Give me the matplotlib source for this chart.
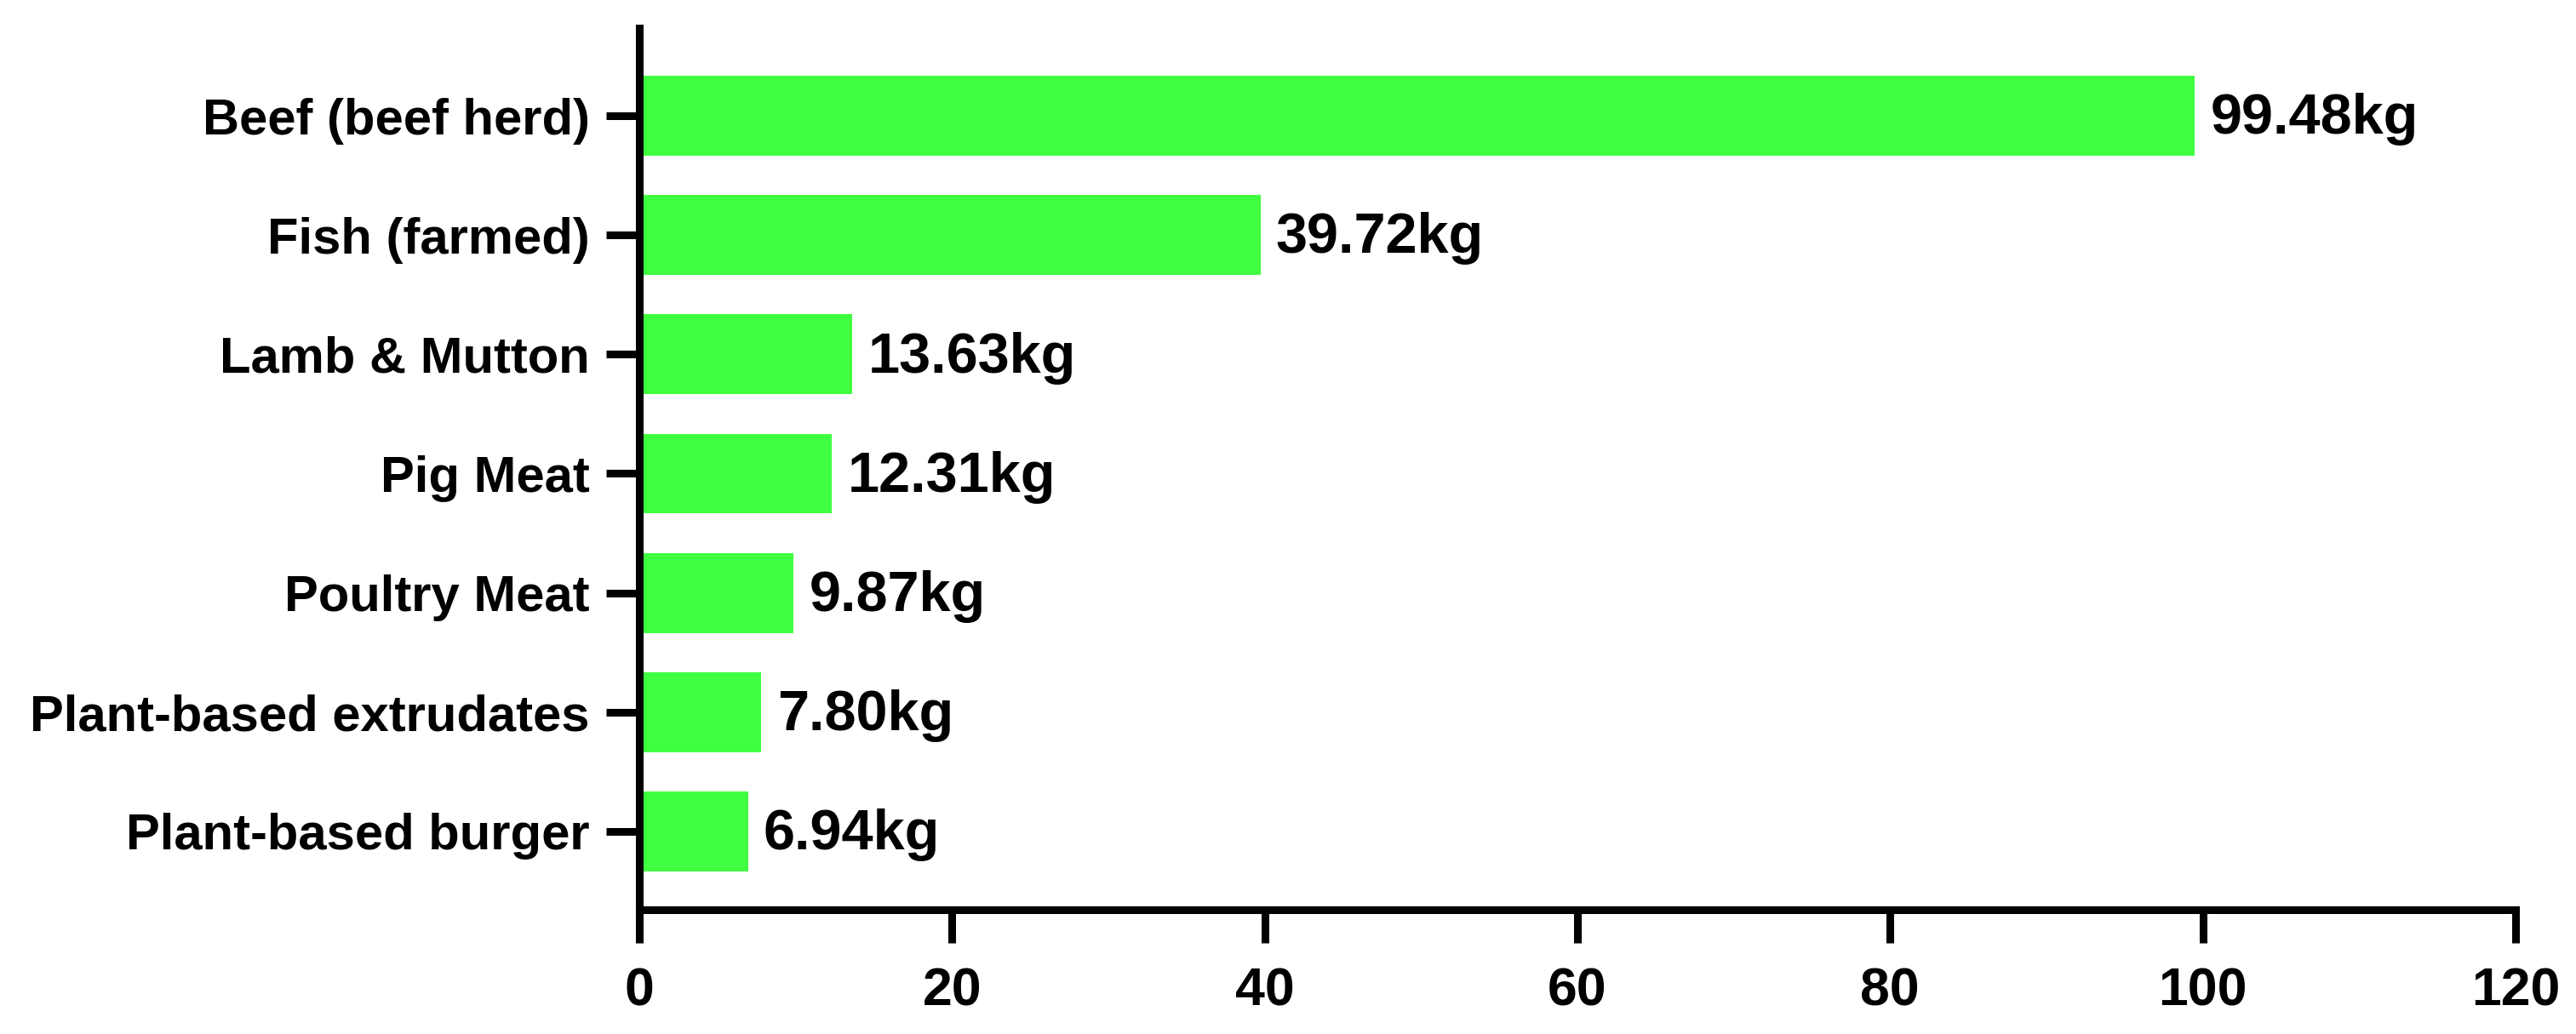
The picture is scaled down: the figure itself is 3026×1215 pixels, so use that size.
import matplotlib
matplotlib.use("Agg")
import matplotlib.pyplot as plt

# data, top to bottom as in the chart
foods = ["Beef (beef herd)", "Fish (farmed)", "Lamb & Mutton", "Pig Meat",
         "Poultry Meat", "Plant-based extrudates", "Plant-based burger"]
emissions = [99.48, 39.72, 13.63, 12.31, 9.87, 7.80, 6.94]
x_ticks = [0, 20, 40, 60, 80, 100, 120]

plt.rcParams['font.family'] = ['Liberation Sans', 'DejaVu Sans']
plt.rcParams['font.weight'] = 'bold'

fig = plt.figure(figsize=(30.26, 12.15), dpi=100)
ax = fig.add_axes([0.2482, 0.1202, 0.7283, 0.8526])

ypos = list(range(len(foods) - 1, -1, -1))
bars = ax.barh(ypos, emissions, height=0.67, color='#40ff40', edgecolor='none')

for b, v in zip(bars, emissions):
    ax.text(b.get_width() + 1.0, b.get_y() + b.get_height() / 2 - 0.03, f"{v:.2f}kg",
            va='center', ha='left', fontsize=48, fontweight='bold')

ax.set_yticks(ypos)
ax.set_yticklabels(foods, fontsize=43, fontweight='bold')
ax.set_xticks(x_ticks)
ax.set_xticklabels([str(t) for t in x_ticks], fontsize=45, fontweight='bold')
ax.set_xlim(0, 120)
ax.set_ylim(-0.657, 6.735)

for s in ['top', 'right']:
    ax.spines[s].set_visible(False)
for s in ['left', 'bottom']:
    ax.spines[s].set_linewidth(6.5)
ax.spines['bottom'].set_capstyle('projecting')

ax.tick_params(axis='both', width=6.5, length=28)
ax.tick_params(axis='y', pad=14)
ax.tick_params(axis='x', pad=20)

fig.savefig("out.png", dpi=100)
